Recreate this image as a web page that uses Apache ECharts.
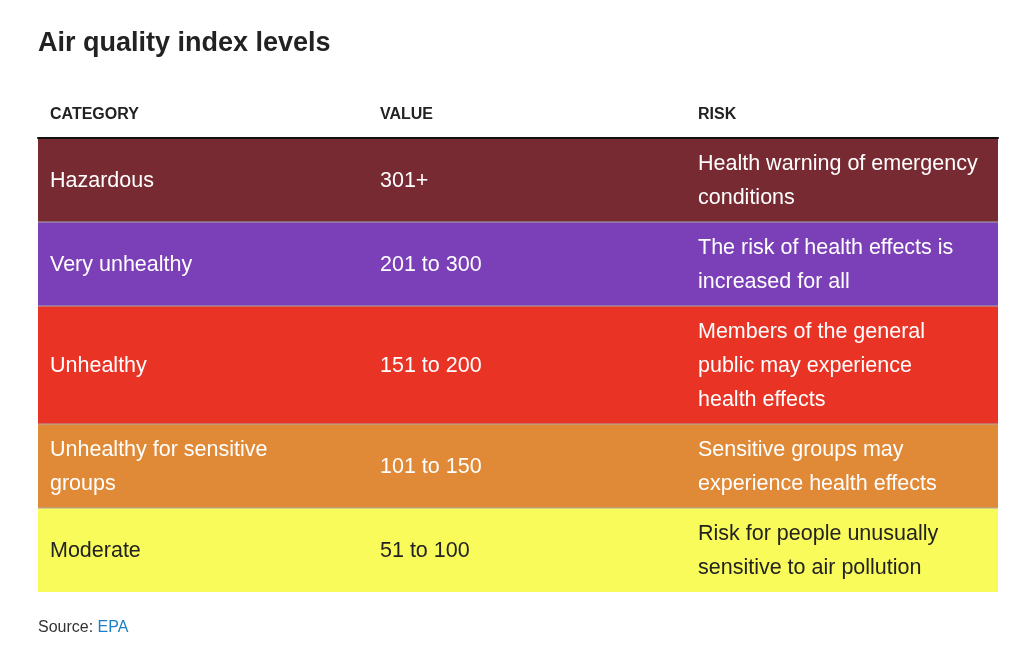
<!DOCTYPE html>
<html>
<head>
<meta charset="utf-8">
<script src="https://cdn.jsdelivr.net/npm/echarts@6/dist/echarts.min.js"></script>
<style>
  html, body { margin: 0; padding: 0; background: #fff; }
  #box { width: 1026px; height: 664px; }
</style>
</head>
<body>
<div id="box"></div>
<script>
// table contents
var headers = ['CATEGORY', 'VALUE', 'RISK'];
var categories = ['Hazardous', 'Very unhealthy', 'Unhealthy', 'Unhealthy for sensitive\ngroups', 'Moderate'];
var ranges = ['301+', '201 to 300', '151 to 200', '101 to 150', '51 to 100'];
var risks = [
    'Health warning of emergency\nconditions',
    'The risk of health effects is\nincreased for all',
    'Members of the general\npublic may experience\nhealth effects',
    'Sensitive groups may\nexperience health effects',
    'Risk for people unusually\nsensitive to air pollution'
];
var rowColors = ['#782a32', '#7b3fb7', '#e93325', '#e08a37', '#f9fb5a'];
var textColors = ['#fff', '#fff', '#fff', '#fff', '#222'];

var LINE = 34;
var PAD = 16;
var TABLE_W = 960;
var colX = [12, 342, 660];
var FONT = '"Liberation Sans", Arial, sans-serif';

function nLines(s) {
    return s.split('\n').length;
}

// each row spans [start, end] on the y axis, height from its line count
var rows = [];
var acc = 0;
for (var i = 0; i < categories.length; i++) {
    var n = Math.max(nLines(categories[i]), nLines(ranges[i]), nLines(risks[i]));
    var h = PAD + LINE * n;
    rows.push([acc, acc + h, i]);
    acc += h;
}
var total = acc;

var myChart = echarts.init(document.getElementById('box'));

var option = {
    backgroundColor: '#fff',
    animation: false,
    title: [{
        text: 'Air quality index levels',
        left: 38,
        top: 30,
        padding: 0,
        textStyle: {
            fontFamily: FONT,
            fontSize: 27,
            fontWeight: 'bold',
            color: '#222'
        }
    }, {
        text: '{a|Source: }{b|EPA}',
        left: 38,
        top: 620,
        padding: 0,
        textStyle: {
            fontWeight: 'normal',
            rich: {
                a: { fontFamily: FONT, fontSize: 16, fontWeight: 'normal', color: '#333' },
                b: { fontFamily: FONT, fontSize: 16, fontWeight: 'normal', color: '#1b7fc4' }
            }
        }
    }],
    grid: {
        left: 38,
        right: 28,
        top: 138,
        bottom: 664 - 138 - total
    },
    xAxis: {
        type: 'value',
        min: 0,
        max: TABLE_W,
        position: 'top',
        splitLine: { show: false },
        axisTick: { show: false },
        axisLabel: { show: false },
        axisLine: {
            show: true,
            onZero: false,
            lineStyle: { color: '#111', width: 2 }
        },
        z: 10
    },
    yAxis: {
        type: 'value',
        inverse: true,
        min: 0,
        max: total,
        show: false
    },
    series: [{
        type: 'custom',
        clip: false,
        data: rows,
        encode: { y: [0, 1] },
        renderItem: function (params, api) {
            var idx = api.value(2);
            var y0 = api.value(0);
            var y1 = api.value(1);
            var p0 = api.coord([0, y0]);
            var p1 = api.coord([TABLE_W, y1]);
            var children = [{
                type: 'rect',
                shape: { x: p0[0], y: p0[1], width: p1[0] - p0[0], height: p1[1] - p0[1] },
                style: { fill: rowColors[idx] }
            }];
            if (idx < categories.length - 1) {
                children.push({
                    type: 'line',
                    shape: { x1: p0[0], y1: p1[1], x2: p1[0], y2: p1[1] },
                    style: { stroke: '#aaaaaa', lineWidth: 1 },
                    z2: 5
                });
            }
            var cells = [categories[idx], ranges[idx], risks[idx]];
            for (var c = 0; c < cells.length; c++) {
                var pt = api.coord([colX[c], (y0 + y1) / 2 + 1]);
                children.push({
                    type: 'text',
                    x: pt[0],
                    y: pt[1],
                    z2: 10,
                    style: {
                        text: cells[c],
                        fill: textColors[idx],
                        fontFamily: FONT,
                        fontSize: 21.5,
                        lineHeight: LINE,
                        align: 'left',
                        verticalAlign: 'middle'
                    }
                });
            }
            if (idx === 0) {
                for (var k = 0; k < headers.length; k++) {
                    var hp = api.coord([colX[k], -23]);
                    children.push({
                        type: 'text',
                        x: hp[0],
                        y: hp[1],
                        style: {
                            text: headers[k],
                            fill: '#222',
                            fontFamily: FONT,
                            fontSize: 16,
                            fontWeight: 'bold',
                            align: 'left',
                            verticalAlign: 'middle'
                        }
                    });
                }
            }
            return { type: 'group', children: children };
        }
    }]
};
myChart.setOption(option);
</script>
</body>
</html>
